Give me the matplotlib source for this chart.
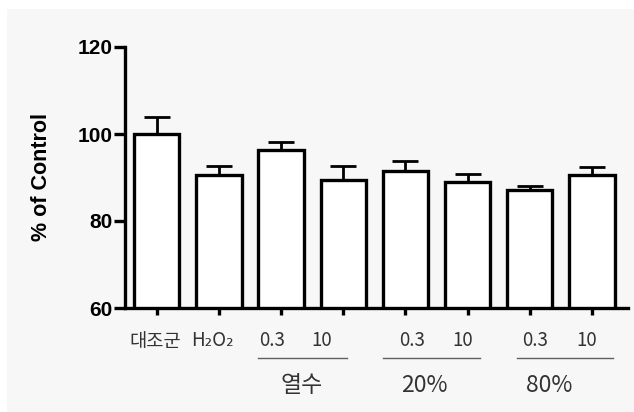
import matplotlib
matplotlib.use("Agg")
import matplotlib.pyplot as plt
import matplotlib.transforms as mtransforms
from matplotlib.patches import Rectangle
from matplotlib.lines import Line2D

# Cell viability (% of control) per treatment
groups = ["대조군", "H₂O₂", "0.3", "10", "0.3", "10", "0.3", "10"]
means = [100.0, 90.6, 96.3, 89.5, 91.6, 89.0, 87.1, 90.6]
sems = [3.8, 2.0, 1.8, 3.1, 2.2, 1.9, 0.9, 1.7]
extract_names = ["열수", "20%", "80%"]
y_ticks = [60, 80, 100, 120]

# layout: label x-positions (data units) and bracket spans
label_x = [-0.02, 0.9, 1.85, 2.66, 4.10, 4.92, 6.08, 6.91]
bracket_spans = [(1.63, 3.06), (3.64, 5.20), (5.79, 7.34)]
bracket_centers = [2.33, 4.31, 6.32]

W, H = 634, 412
fig = plt.figure(figsize=(W / 100, H / 100), dpi=100)
fig.patch.set_facecolor("white")
fig.patches.append(Rectangle((7 / W, 0), 1 - 7 / W, 1 - 9 / H,
                             transform=fig.transFigure, facecolor="#f7f7f7",
                             edgecolor="none", zorder=-10))

ax = fig.add_axes([125 / W, 1 - 308 / H, (628 - 125) / W, (308 - 47) / H])
ax.set_facecolor("none")

x = list(range(len(means)))
ax.bar(x, means, width=0.73, bottom=0, facecolor="white", edgecolor="black",
       linewidth=2.4, zorder=2)
ax.errorbar(x, means, yerr=[[0] * len(sems), sems], fmt="none", ecolor="black",
            elinewidth=2.0, capsize=9.5, capthick=2.0, zorder=1)

ax.set_ylim(60, 120)
ax.set_xlim(-0.51, 7.58)
ax.set_yticks(y_ticks)
ax.set_xticks(x)
ax.set_xticklabels([])

for s in ["top", "right"]:
    ax.spines[s].set_visible(False)
for s in ["left", "bottom"]:
    ax.spines[s].set_linewidth(2.4)
    ax.spines[s].set_zorder(3)

ax.tick_params(axis="y", length=8, width=2.4, pad=1, direction="out")
ax.tick_params(axis="x", length=5, width=2.4, direction="out")
for lbl in ax.get_yticklabels():
    lbl.set_fontfamily(["Liberation Sans Narrow", "Liberation Sans", "DejaVu Sans"])
    lbl.set_fontweight("bold")
    lbl.set_fontsize(15)

ax.set_ylabel("% of Control", fontsize=15.5, fontweight="bold",
              fontfamily=["Liberation Sans", "DejaVu Sans"])
ax.yaxis.set_label_coords(-0.145, 0.503)

kfont = ["Noto Sans CJK KR", "DejaVu Sans"]
trans = mtransforms.blended_transform_factory(ax.transData, fig.transFigure)
for xi, g in zip(label_x, groups):
    ax.text(xi, 1 - 341 / H, g, transform=trans, ha="center", va="center",
            fontsize=13.5, color="#333333", family=kfont, clip_on=False)

for (x0, x1), xc, name in zip(bracket_spans, bracket_centers, extract_names):
    fig.lines.append(Line2D([x0, x1], [1 - 358 / H] * 2, transform=trans,
                            color="#606060", linewidth=1.0))
    ax.text(xc, 1 - 386 / H, name, transform=trans, ha="center", va="center",
            fontsize=16.5, color="#333333", family=kfont, clip_on=False)

fig.savefig("out.png", dpi=100, facecolor=fig.get_facecolor())
